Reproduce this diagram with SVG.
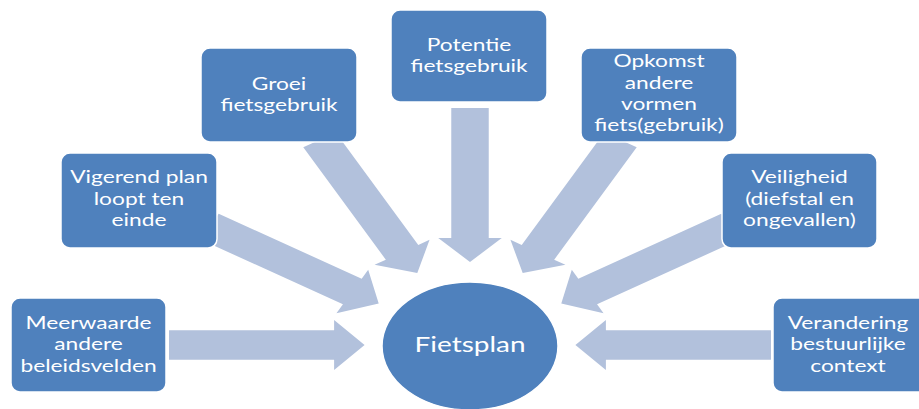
<svg xmlns="http://www.w3.org/2000/svg" width="919" height="409" viewBox="0 0 919 409">
<style>
.box{fill:#4f81bd;stroke:#ffffff;stroke-width:1.5}
.t{font-family:Lato,"Open Sans",sans-serif;font-size:17.5px;fill:#ffffff;text-anchor:middle}
.big{font-size:21.5px}
</style>
<defs>
<polygon id="arr" points="-237,-14.75 -107,-14.75 -107,-25 -83,0 -107,25 -107,14.75 -237,14.75"/>
</defs>
<rect width="919" height="409" fill="#ffffff"/>
<g id="connectors" transform="translate(470 345) scale(1.27 1)" fill="#b2c1dc">
<use href="#arr"/>
<use href="#arr" transform="rotate(30)"/>
<use href="#arr" transform="rotate(60)"/>
<use href="#arr" transform="rotate(90)"/>
<use href="#arr" transform="rotate(120)"/>
<use href="#arr" transform="rotate(150)"/>
<use href="#arr" transform="rotate(180)"/>
</g>
<g id="fietsplan">
<ellipse cx="470" cy="346" rx="88" ry="64" class="box"/>
<text class="t big" transform="translate(470 0) scale(1.3 1)"><tspan x="0" y="352">Fietsplan</tspan></text>
</g>
<g id="meerwaarde">
<rect x="11" y="298" width="155" height="94" rx="9" class="box"/>
<text class="t" transform="translate(88.5 0) scale(1.3 1)"><tspan x="0" y="329.3">Meerwaarde</tspan><tspan x="0" y="350.5">andere</tspan><tspan x="0" y="371.7">beleidsvelden</tspan></text>
</g>
<g id="vigerend">
<rect x="61" y="153" width="156" height="95" rx="9" class="box"/>
<text class="t" transform="translate(139 0) scale(1.3 1)"><tspan x="0" y="183.5">Vigerend plan</tspan><tspan x="0" y="204.8">loopt ten</tspan><tspan x="0" y="226.1">einde</tspan></text>
</g>
<g id="groei">
<rect x="201" y="48" width="156" height="94" rx="9" class="box"/>
<text class="t" transform="translate(279 0) scale(1.3 1)"><tspan x="0" y="90.2">Groei</tspan><tspan x="0" y="111.4">fietsgebruik</tspan></text>
</g>
<g id="potentie">
<rect x="391" y="10" width="156" height="92" rx="9" class="box"/>
<text class="t" transform="translate(469 0) scale(1.3 1)"><tspan x="0" y="51.2">Potentie</tspan><tspan x="0" y="72.4">fietsgebruik</tspan></text>
</g>
<g id="opkomst">
<rect x="581" y="48" width="156" height="94" rx="9" class="box"/>
<text class="t" transform="translate(659 0) scale(1.3 1)"><tspan x="0" y="67.5">Opkomst</tspan><tspan x="0" y="88.7">andere</tspan><tspan x="0" y="109.9">vormen</tspan><tspan x="0" y="131.1">fiets(gebruik)</tspan></text>
</g>
<g id="veiligheid">
<rect x="722" y="153" width="155" height="95" rx="9" class="box"/>
<text class="t" transform="translate(799.5 0) scale(1.3 1)"><tspan x="0" y="183.5">Veiligheid</tspan><tspan x="0" y="204.8">(diefstal en</tspan><tspan x="0" y="226.1">ongevallen)</tspan></text>
</g>
<g id="verandering">
<rect x="773" y="298" width="155" height="94" rx="9" class="box"/>
<text class="t" transform="translate(848 0) scale(1.3 1)"><tspan x="0" y="329.3">Verandering</tspan><tspan x="0" y="350.5">bestuurlijke</tspan><tspan x="0" y="371.7">context</tspan></text>
</g>
</svg>
